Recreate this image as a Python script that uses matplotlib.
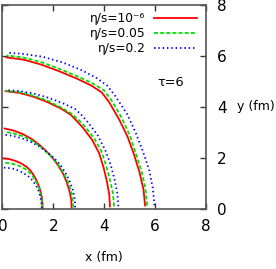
import matplotlib
matplotlib.use('Agg')
import matplotlib.pyplot as plt
import numpy as np

plt.rcParams['font.family'] = ['DejaVu Sans']

labels = ['η/s=10⁻⁶', 'η/s=0.05', 'η/s=0.2']
colors = ['#ff0000', '#00e000', '#0000ff']

# contour radius (fm) read at these polar angles (deg from the x axis)
angles = [1.5, 8, 15, 22.5, 30, 37.5, 45, 49.5, 54, 60, 67.5, 75, 82, 88.5]

# four contours per run, innermost first
red_r = [
    [1.58, 1.59, 1.61, 1.64, 1.68, 1.73, 1.79, 1.83, 1.87, 1.91, 1.94, 1.96, 1.98, 1.99],
    [2.72, 2.73, 2.73, 2.74, 2.76, 2.78, 2.81, 2.83, 2.86, 2.91, 2.98, 3.05, 3.11, 3.16],
    [4.23, 4.24, 4.25, 4.30, 4.39, 4.45, 4.49, 4.52, 4.57, 4.56, 4.55, 4.57, 4.60, 4.62],
    [5.61, 5.60, 5.58, 5.60, 5.68, 5.78, 5.93, 6.01, 5.97, 5.89, 5.84, 5.86, 5.91, 5.94],
]
green_r = [
    [1.56, 1.57, 1.59, 1.62, 1.66, 1.70, 1.74, 1.77, 1.79, 1.81, 1.82, 1.82, 1.82, 1.82],
    [2.79, 2.79, 2.79, 2.79, 2.79, 2.80, 2.81, 2.82, 2.84, 2.88, 2.93, 2.97, 3.00, 3.03],
    [4.39, 4.39, 4.38, 4.42, 4.50, 4.55, 4.58, 4.60, 4.62, 4.60, 4.60, 4.61, 4.63, 4.64],
    [5.69, 5.68, 5.67, 5.68, 5.78, 5.90, 6.05, 6.13, 6.07, 5.98, 5.93, 5.95, 5.99, 6.02],
]
blue_r = [
    [1.55, 1.55, 1.56, 1.58, 1.60, 1.62, 1.63, 1.64, 1.64, 1.64, 1.64, 1.64, 1.63, 1.63],
    [2.86, 2.87, 2.87, 2.86, 2.86, 2.86, 2.85, 2.84, 2.84, 2.85, 2.86, 2.88, 2.90, 2.92],
    [4.56, 4.56, 4.56, 4.60, 4.66, 4.73, 4.78, 4.82, 4.85, 4.78, 4.72, 4.69, 4.67, 4.66],
    [5.98, 5.97, 5.97, 5.97, 6.04, 6.16, 6.27, 6.35, 6.33, 6.27, 6.21, 6.17, 6.13, 6.13],
]

fig = plt.figure(figsize=(2.76, 2.69), dpi=100)
ax = fig.add_axes([0.009, 0.222, 0.737, 0.7606])

th = np.radians(angles)
styles = [dict(color=colors[0]),
          dict(color=colors[1], dashes=(2.2, 1.2)),
          dict(color=colors[2], dashes=(0.8, 1.6))]
for k, radii in enumerate([red_r, green_r, blue_r]):
    for i, r in enumerate(radii):
        r = np.array(r)
        ax.plot(r * np.cos(th), r * np.sin(th), lw=1.3,
                label=labels[k] if i == 0 else None, **styles[k])

ax.set_xlim(0, 8)
ax.set_ylim(0, 8)
ax.set_xticks([0, 2, 4, 6, 8])
ax.set_yticks([0, 2, 4, 6, 8])
ax.tick_params(direction='in', top=True, right=True, left=True, bottom=True,
               labelleft=False, labelright=True, length=4, width=1, labelsize=11,
               color='#333333')
ax.tick_params(axis='x', pad=7)
ax.tick_params(axis='y', pad=8)
for s in ax.spines.values():
    s.set_color('#555555')
    s.set_linewidth(1.2)

ax.set_xlabel('x (fm)', fontsize=9, labelpad=12.5)
ax.text(1.152, 0.5, 'y (fm)', transform=ax.transAxes, fontsize=9, ha='left', va='center')
ax.text(6.63, 4.97, 'τ=6', fontsize=9.3, ha='center', va='center')

ax.legend(loc='upper right', bbox_to_anchor=(0.956, 0.962), frameon=False,
          fontsize=8.8, markerfirst=False, handlelength=3.5, handletextpad=0.7,
          labelspacing=0.16, borderpad=0, borderaxespad=0)

fig.savefig('out.png', dpi=100)
